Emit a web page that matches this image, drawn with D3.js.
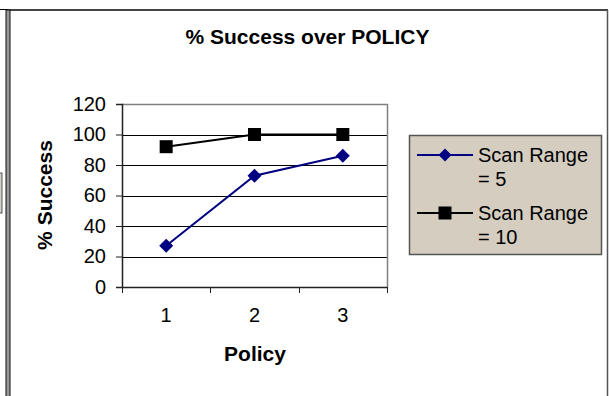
<!DOCTYPE html>
<html>
<head>
<meta charset="utf-8">
<script src="https://cdn.jsdelivr.net/npm/d3@7"></script>
<style>
  html, body { margin: 0; padding: 0; background: #fff; }
  svg { display: block; font-family: "Liberation Sans", Arial, sans-serif; }
</style>
</head>
<body>
<svg id="chart" width="609" height="396"></svg>
<script>
// Chart data
const policies = ["1", "2", "3"];
const scanRange5 = [27, 73, 86];
const scanRange10 = [92, 100, 100];
const yTicks = [0, 20, 40, 60, 80, 100, 120];
const seriesNames = ["Scan Range = 5", "Scan Range = 10"];
const seriesColors = ["#000080", "#000000"];

const FONT = "'Liberation Sans', Arial, sans-serif";
const FS = 20;
const FS_BOLD = 21;

const svg = d3.select("#chart");

// Window frame
svg.append("rect").attr("x", -5).attr("y", 173).attr("width", 7).attr("height", 40)
  .attr("fill", "#d4d0c8").attr("stroke", "#555");
svg.append("line").attr("x1", 0).attr("x2", 8).attr("y1", 9.5).attr("y2", 9.5).attr("stroke", "#000");
svg.append("line").attr("x1", 8).attr("x2", 608).attr("y1", 10).attr("y2", 10).attr("stroke", "#444").attr("stroke-width", 2);
svg.append("rect").attr("x", 6).attr("y", 10).attr("width", 4).attr("height", 396)
  .attr("fill", "#999").attr("stroke", "#111").attr("stroke-width", 1);
svg.append("line").attr("x1", 607.5).attr("x2", 607.5).attr("y1", 10).attr("y2", 396).attr("stroke", "#555").attr("stroke-width", 1.5);

// Plot area
const plotL = 122, plotR = 387, plotT = 104, plotB = 287;
const x = d3.scaleBand().domain(policies).range([plotL, plotR]).padding(0);
const y = d3.scaleLinear().domain([0, 120]).range([plotB, plotT]);

// Gridlines
svg.append("g").selectAll("line").data(yTicks.filter(d => d > 0 && d < 120)).join("line")
  .attr("x1", plotL).attr("x2", plotR)
  .attr("y1", d => Math.round(y(d)) + 0.5).attr("y2", d => Math.round(y(d)) + 0.5)
  .attr("stroke", "#000").attr("stroke-width", 1);

// Plot border (top/right)
svg.append("path")
  .attr("d", `M${plotL},${plotT + 0.5}H${plotR + 0.5}V${plotB}`)
  .attr("fill", "none").attr("stroke", "#808080").attr("stroke-width", 1.5);

// Y axis
const yAxis = svg.append("g").attr("transform", `translate(${plotL},0)`)
  .call(d3.axisLeft(y).tickValues(yTicks).tickSize(6).tickPadding(10));
yAxis.select(".domain").attr("stroke", "#222").attr("stroke-width", 1.5);
yAxis.selectAll(".tick line").attr("stroke", "#222");
yAxis.selectAll("text").attr("font-size", FS).attr("fill", "#000").attr("font-family", FONT);

// X axis
const xAxis = svg.append("g").attr("transform", `translate(0,${plotB})`)
  .call(d3.axisBottom(x).tickSize(0).tickPadding(21));
xAxis.select(".domain").attr("stroke", "#222").attr("stroke-width", 1.5);
xAxis.selectAll("text").attr("font-size", FS).attr("fill", "#000").attr("font-family", FONT);
// Tick marks at category boundaries
const bounds = policies.map(p => x(p)).concat([x(policies[policies.length - 1]) + x.bandwidth()]);
svg.append("g").selectAll("line").data(bounds).join("line")
  .attr("x1", d => Math.round(d) + 0.5).attr("x2", d => Math.round(d) + 0.5)
  .attr("y1", plotB).attr("y2", plotB + 6).attr("stroke", "#222");

// Series
const cx = p => x(p) + x.bandwidth() / 2;
const line = d3.line().x((d, i) => cx(policies[i])).y(d => y(d));

function drawDiamond(g, px, py, r) {
  g.append("path")
    .attr("d", `M${px},${py - r}L${px + r},${py}L${px},${py + r}L${px - r},${py}Z`)
    .attr("fill", seriesColors[0]);
}
function drawSquare(g, px, py, r) {
  g.append("rect").attr("x", px - r).attr("y", py - r).attr("width", 2 * r).attr("height", 2 * r)
    .attr("fill", seriesColors[1]);
}

const s1 = svg.append("g");
s1.append("path").datum(scanRange5).attr("d", line)
  .attr("fill", "none").attr("stroke", seriesColors[0]).attr("stroke-width", 2);
scanRange5.forEach((v, i) => drawDiamond(s1, cx(policies[i]), y(v), 7));

const s2 = svg.append("g");
s2.append("path").datum(scanRange10).attr("d", line)
  .attr("fill", "none").attr("stroke", seriesColors[1]).attr("stroke-width", 2);
scanRange10.forEach((v, i) => drawSquare(s2, cx(policies[i]), y(v), 6.5));

// Title and axis titles
svg.append("text").attr("x", 307.5).attr("y", 44).attr("text-anchor", "middle")
  .attr("font-size", FS_BOLD).attr("font-weight", "bold").text("% Success over POLICY");
svg.append("text").attr("x", 255).attr("y", 361).attr("text-anchor", "middle")
  .attr("font-size", FS_BOLD).attr("font-weight", "bold").text("Policy");
svg.append("text").attr("transform", "translate(52,195) rotate(-90)").attr("text-anchor", "middle")
  .attr("font-size", FS_BOLD).attr("font-weight", "bold").text("% Success");

// Legend
const lg = svg.append("g");
lg.append("rect").attr("x", 409.5).attr("y", 135.5).attr("width", 192).attr("height", 119)
  .attr("fill", "#d4cdc0").attr("stroke", "#555").attr("stroke-width", 1.5);
const rows = [155, 213];
const lines2 = [["Scan Range", "= 5"], ["Scan Range", "= 10"]];
rows.forEach((ry, i) => {
  lg.append("line").attr("x1", 417).attr("x2", 473).attr("y1", ry).attr("y2", ry)
    .attr("stroke", seriesColors[i]).attr("stroke-width", 2);
  if (i === 0) drawDiamond(lg, 445, ry, 6.5); else drawSquare(lg, 445, ry, 6.5);
  const t = lg.append("text").attr("x", 478).attr("y", ry + 7).attr("font-size", FS).attr("fill", "#000");
  t.append("tspan").attr("x", 478).text(lines2[i][0]);
  t.append("tspan").attr("x", 478).attr("dy", 24).text(lines2[i][1]);
});
</script>
</body>
</html>
